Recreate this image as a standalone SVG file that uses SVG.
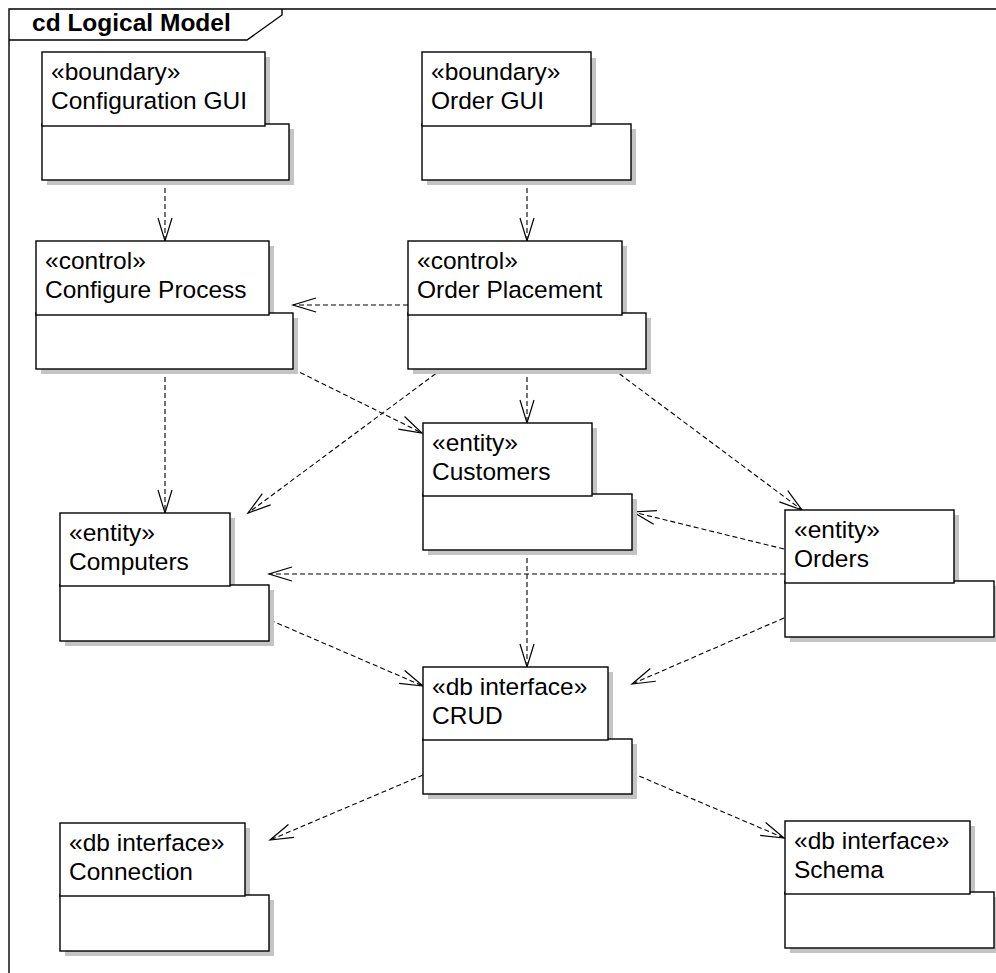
<svg xmlns="http://www.w3.org/2000/svg" width="996" height="973" viewBox="0 0 996 973">
  <defs>
    <style>
      .frame { fill: none; stroke: #000; stroke-width: 1.4; }
      .title { font-family: "Liberation Sans", Arial, sans-serif; font-weight: bold; font-size: 24.5px; fill: #000; }
      .sh { fill: #c4c4c4; stroke: none; }
      .bx { fill: #fff; stroke: #000; stroke-width: 1.4; }
      .lbl { font-family: "Liberation Sans", Arial, sans-serif; font-size: 24.5px; fill: #000; }
      .dep { fill: none; stroke: #000; stroke-width: 1.1; stroke-dasharray: 5 3; marker-end: url(#open); }
    </style>
    <marker id="open" viewBox="-26 -10 30 20" refX="0" refY="0" markerWidth="30" markerHeight="20" markerUnits="userSpaceOnUse" orient="auto">
      <path d="M-23,-7 L0,0 L-23,7" fill="none" stroke="#000" stroke-width="1.2" stroke-dasharray="none"/>
    </marker>
  </defs>

  <rect x="0" y="0" width="996" height="973" fill="#fff"/>

  <!-- diagram frame with name tab -->
  <g id="frame">
    <path class="frame" d="M9,973 L9,9 L996,9"/>
    <path class="frame" d="M9,40 L247,40 L282,15 L282,9"/>
    <text class="title" x="32" y="31">cd Logical Model</text>
  </g>

  <!-- dependencies -->
  <g id="connectors">
    <path class="dep" d="M165,180 L165,241"/>
    <path class="dep" d="M527,180 L527,241"/>
    <path class="dep" d="M408,305 L293,305"/>
    <path class="dep" d="M293,369 L422,433"/>
    <path class="dep" d="M442,369 L248,513"/>
    <path class="dep" d="M527,369 L527,423"/>
    <path class="dep" d="M613,369 L802,510"/>
    <path class="dep" d="M165,369 L165,513"/>
    <path class="dep" d="M784,549 L633,512"/>
    <path class="dep" d="M785,574 L269,574"/>
    <path class="dep" d="M270,620 L423,686"/>
    <path class="dep" d="M527,550 L527,667"/>
    <path class="dep" d="M784,618 L632,684"/>
    <path class="dep" d="M423,775 L270,840"/>
    <path class="dep" d="M632,773 L784,838"/>
  </g>

  <!-- packages: shadow, lower compartment, upper compartment, labels -->
  <g id="configuration-gui">
    <rect class="sh" x="47" y="57" width="223" height="74"/>
    <rect class="sh" x="47" y="129" width="247" height="56"/>
    <rect class="bx" x="42" y="124" width="247" height="56"/>
    <rect class="bx" x="42" y="52" width="223" height="74"/>
    <text class="lbl" x="51" y="80">«boundary»</text>
    <text class="lbl" x="51" y="109">Configuration GUI</text>
  </g>

  <g id="order-gui">
    <rect class="sh" x="427" y="58" width="169" height="74"/>
    <rect class="sh" x="427" y="129" width="209" height="56"/>
    <rect class="bx" x="422" y="124" width="209" height="56"/>
    <rect class="bx" x="422" y="52" width="169" height="74"/>
    <text class="lbl" x="431" y="80">«boundary»</text>
    <text class="lbl" x="431" y="109">Order GUI</text>
  </g>

  <g id="configure-process">
    <rect class="sh" x="41" y="246" width="233" height="74"/>
    <rect class="sh" x="41" y="318" width="257" height="56"/>
    <rect class="bx" x="36" y="313" width="257" height="56"/>
    <rect class="bx" x="36" y="241" width="233" height="74"/>
    <text class="lbl" x="45" y="269">«control»</text>
    <text class="lbl" x="45" y="298">Configure Process</text>
  </g>

  <g id="order-placement">
    <rect class="sh" x="413" y="246" width="214" height="74"/>
    <rect class="sh" x="413" y="318" width="238" height="56"/>
    <rect class="bx" x="408" y="313" width="238" height="56"/>
    <rect class="bx" x="408" y="241" width="214" height="74"/>
    <text class="lbl" x="417" y="269">«control»</text>
    <text class="lbl" x="417" y="298">Order Placement</text>
  </g>

  <g id="customers">
    <rect class="sh" x="428" y="428" width="169" height="73"/>
    <rect class="sh" x="428" y="499" width="209" height="56"/>
    <rect class="bx" x="423" y="494" width="209" height="56"/>
    <rect class="bx" x="423" y="423" width="169" height="73"/>
    <text class="lbl" x="432" y="451">«entity»</text>
    <text class="lbl" x="432" y="480">Customers</text>
  </g>

  <g id="computers">
    <rect class="sh" x="65" y="518" width="170" height="73"/>
    <rect class="sh" x="65" y="590" width="209" height="56"/>
    <rect class="bx" x="60" y="585" width="209" height="56"/>
    <rect class="bx" x="60" y="513" width="170" height="73"/>
    <text class="lbl" x="69" y="541">«entity»</text>
    <text class="lbl" x="69" y="570">Computers</text>
  </g>

  <g id="orders">
    <rect class="sh" x="790" y="515" width="169" height="73"/>
    <rect class="sh" x="790" y="586" width="209" height="56"/>
    <rect class="bx" x="785" y="581" width="209" height="56"/>
    <rect class="bx" x="785" y="510" width="169" height="73"/>
    <text class="lbl" x="794" y="538">«entity»</text>
    <text class="lbl" x="794" y="567">Orders</text>
  </g>

  <g id="crud">
    <rect class="sh" x="428" y="672" width="185" height="73"/>
    <rect class="sh" x="428" y="744" width="209" height="55"/>
    <rect class="bx" x="423" y="739" width="209" height="55"/>
    <rect class="bx" x="423" y="667" width="185" height="73"/>
    <text class="lbl" x="432" y="695">«db interface»</text>
    <text class="lbl" x="432" y="724">CRUD</text>
  </g>

  <g id="connection">
    <rect class="sh" x="65" y="828" width="185" height="73"/>
    <rect class="sh" x="65" y="900" width="209" height="56"/>
    <rect class="bx" x="60" y="895" width="209" height="56"/>
    <rect class="bx" x="60" y="823" width="185" height="73"/>
    <text class="lbl" x="69" y="851">«db interface»</text>
    <text class="lbl" x="69" y="880">Connection</text>
  </g>

  <g id="schema">
    <rect class="sh" x="790" y="826" width="185" height="73"/>
    <rect class="sh" x="790" y="897" width="209" height="56"/>
    <rect class="bx" x="785" y="892" width="209" height="56"/>
    <rect class="bx" x="785" y="821" width="185" height="73"/>
    <text class="lbl" x="794" y="849">«db interface»</text>
    <text class="lbl" x="794" y="878">Schema</text>
  </g>
</svg>
